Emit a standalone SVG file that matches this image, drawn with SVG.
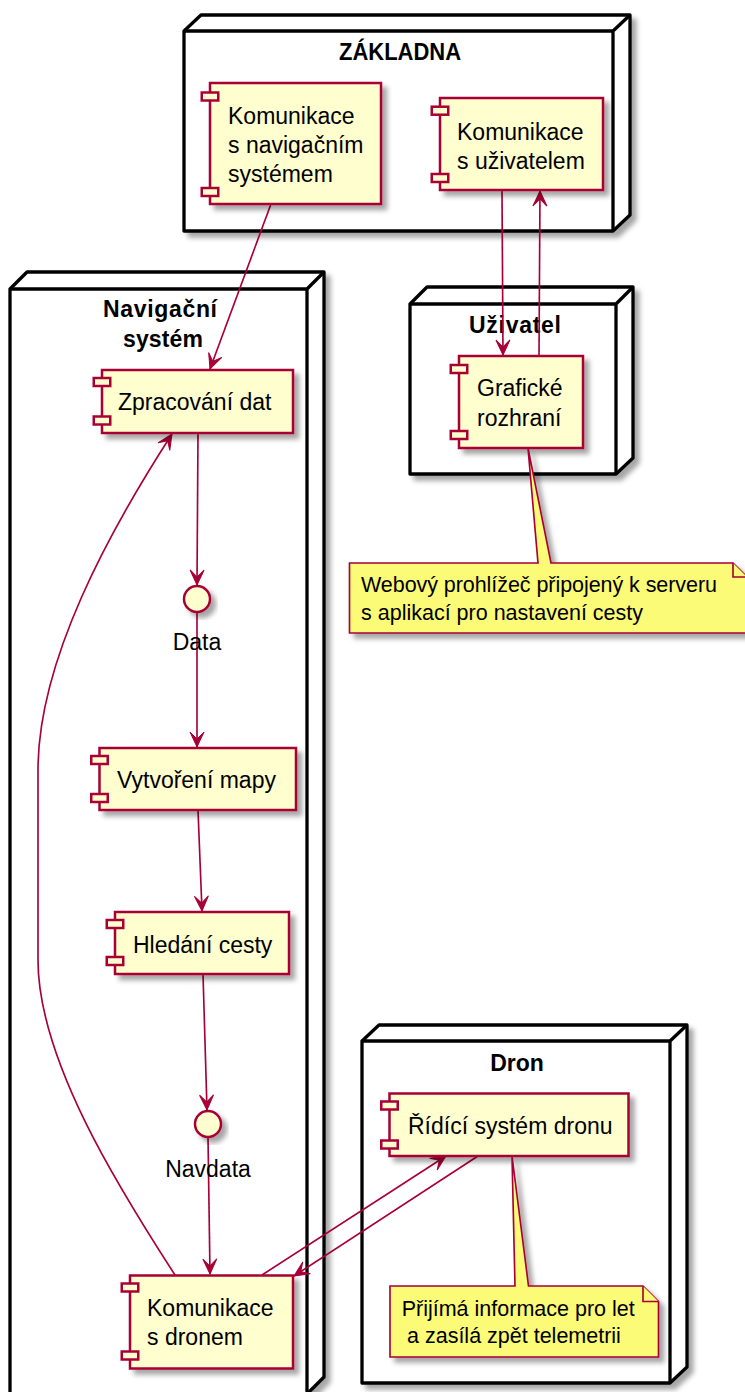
<svg xmlns="http://www.w3.org/2000/svg" width="745" height="1392" viewBox="0 0 745 1392">
<style>
.node{fill:#FFFFFF;stroke:#000000;stroke-width:3.3;stroke-linejoin:round}
.nl{fill:none;stroke:#000000;stroke-width:3.3}
.ttl{font-family:"Liberation Sans",Arial,sans-serif;font-size:23px;font-weight:bold;fill:#000;text-anchor:middle}
.comp{fill:#FEFECE;stroke:#A80036;stroke-width:2.5}
.port{fill:#FEFECE;stroke:#A80036;stroke-width:2.5}
.txt{font-family:"Liberation Sans",Arial,sans-serif;font-size:23px;fill:#000}
.lbl{font-family:"Liberation Sans",Arial,sans-serif;font-size:23px;fill:#000;text-anchor:middle}
.note{fill:#FBFB77;stroke:#A80036;stroke-width:1.65}
.ntxt{font-family:"Liberation Sans",Arial,sans-serif;font-size:21.5px;fill:#000}
.edge{fill:none;stroke:#A80036;stroke-width:1.65}
</style>
<defs>
<filter id="sh" x="-20%" y="-20%" width="150%" height="150%">
<feDropShadow dx="5" dy="5" stdDeviation="2.5" flood-color="#000" flood-opacity="0.35"/>
</filter>
<marker id="arr" viewBox="-17 -9 18 18" markerWidth="18" markerHeight="18" refX="0" refY="0" orient="auto" markerUnits="userSpaceOnUse">
<path d="M0,0 L-15,-7 L-8,0 L-15,7 Z" fill="#A80036" stroke="#A80036" stroke-width="1"/>
</marker>
</defs>
<rect width="745" height="1392" fill="#FFFFFF"/>

<g id="node-zakladna">
<path class="node" filter="url(#sh)" d="M184,31 L201,15 L630,15 L630,215 L613,231 L184,231 Z"/>
<path class="nl" d="M184,31 L613,31 L630,15 M613,31 L613,231"/>
<text class="ttl" x="400" y="60" textLength="122" lengthAdjust="spacingAndGlyphs">ZÁKLADNA</text>
</g>
<g id="node-navigacni">
<path class="node" filter="url(#sh)" d="M10,289 L27,272 L324,272 L324,1377 L307,1394 L10,1394 Z"/>
<path class="nl" d="M10,289 L307,289 L324,272 M307,289 L307,1394"/>
<text class="ttl" x="160" y="317" textLength="114" lengthAdjust="spacing">Navigační</text>
<text class="ttl" x="163" y="347" textLength="80" lengthAdjust="spacing">systém</text>
</g>
<g id="node-uzivatel">
<path class="node" filter="url(#sh)" d="M410,304 L427,287 L633,287 L633,458 L616,474 L410,474 Z"/>
<path class="nl" d="M410,304 L616,304 L633,287 M616,304 L616,474"/>
<text class="ttl" x="515" y="333" textLength="92" lengthAdjust="spacing">Uživatel</text>
</g>
<g id="node-dron">
<path class="node" filter="url(#sh)" d="M362,1041 L379,1025 L687,1025 L687,1367 L670,1383 L362,1383 Z"/>
<path class="nl" d="M362,1041 L670,1041 L687,1025 M670,1041 L670,1383"/>
<text class="ttl" x="517" y="1071">Dron</text>
</g>

<g id="connectors">
<path class="edge" marker-end="url(#arr)" d="M271,204 L210,369"/>
<path class="edge" marker-end="url(#arr)" d="M502,190 L503,355"/>
<path class="edge" marker-end="url(#arr)" d="M539,356 L540,191"/>
<path class="edge" marker-end="url(#arr)" d="M198,433 L197,585"/>
<path class="edge" marker-end="url(#arr)" d="M197,612 L197,747"/>
<path class="edge" marker-end="url(#arr)" d="M198,810 L202,911"/>
<path class="edge" marker-end="url(#arr)" d="M203,974 L207,1110"/>
<path class="edge" marker-end="url(#arr)" d="M208,1137 L210,1274"/>
<path class="edge" marker-end="url(#arr)" d="M175,1275 C120,1190 38,1060 38,960 L38,770 C38,660 110,530 172,434"/>
<path class="edge" marker-end="url(#arr)" d="M262,1275 L446,1156"/>
<path class="edge" marker-end="url(#arr)" d="M478,1156 L294,1276"/>
</g>

<g id="comp-kom-nav">
<rect class="comp" filter="url(#sh)" x="210" y="83" width="171" height="121"/>
<rect class="port" x="201.75" y="92.5" width="16.5" height="8"/>
<rect class="port" x="201.75" y="188" width="16.5" height="8"/>
<text class="txt" x="228" y="124">Komunikace</text>
<text class="txt" x="228" y="153">s navigačním</text>
<text class="txt" x="228" y="182">systémem</text>
</g>
<g id="comp-kom-uz">
<rect class="comp" filter="url(#sh)" x="440" y="98" width="163" height="92"/>
<rect class="port" x="431.75" y="106.7" width="16.5" height="8"/>
<rect class="port" x="431.75" y="174" width="16.5" height="8"/>
<text class="txt" x="457" y="139.5">Komunikace</text>
<text class="txt" x="457" y="168.5">s uživatelem</text>
</g>
<g id="comp-zpracovani">
<rect class="comp" filter="url(#sh)" x="102" y="370" width="191" height="63"/>
<rect class="port" x="93.75" y="378" width="16.5" height="8"/>
<rect class="port" x="93.75" y="416.5" width="16.5" height="8"/>
<text class="txt" x="118" y="410">Zpracování dat</text>
</g>
<g id="comp-graficke">
<rect class="comp" filter="url(#sh)" x="459" y="356" width="124" height="92"/>
<rect class="port" x="450.75" y="365" width="16.5" height="8"/>
<rect class="port" x="450.75" y="431" width="16.5" height="8"/>
<text class="txt" x="477" y="396">Grafické</text>
<text class="txt" x="477" y="425.5">rozhraní</text>
</g>
<g id="note-web">
<path class="note" filter="url(#sh)" d="M349.5,563 L538,563 L528,448 L551,563 L733,563 L747,577 L747,633 L349.5,633 Z"/>
<path class="note" d="M733,563 L733,577 L747,577"/>
<text class="ntxt" x="361" y="592" textLength="356" lengthAdjust="spacing">Webový prohlížeč připojený k serveru</text>
<text class="ntxt" x="361" y="619.5">s aplikací pro nastavení cesty</text>
</g>
<g id="iface-data">
<circle class="comp" filter="url(#sh)" cx="197" cy="599" r="13"/>
<text class="lbl" x="197" y="650">Data</text>
</g>
<g id="comp-vytvoreni">
<rect class="comp" filter="url(#sh)" x="99.5" y="748" width="196.5" height="62"/>
<rect class="port" x="91.25" y="756" width="16.5" height="8"/>
<rect class="port" x="91.25" y="794" width="16.5" height="8"/>
<text class="txt" x="117" y="788">Vytvoření mapy</text>
</g>
<g id="comp-hledani">
<rect class="comp" filter="url(#sh)" x="115" y="912" width="174" height="62"/>
<rect class="port" x="106.75" y="920" width="16.5" height="8"/>
<rect class="port" x="106.75" y="957" width="16.5" height="8"/>
<text class="txt" x="133" y="952.7">Hledání cesty</text>
</g>
<g id="iface-navdata">
<circle class="comp" filter="url(#sh)" cx="208" cy="1124" r="13"/>
<text class="lbl" x="208" y="1177">Navdata</text>
</g>
<g id="comp-kom-dron">
<rect class="comp" filter="url(#sh)" x="130" y="1275.5" width="163" height="93"/>
<rect class="port" x="121.75" y="1283.5" width="16.5" height="8"/>
<rect class="port" x="121.75" y="1351.5" width="16.5" height="8"/>
<text class="txt" x="147" y="1316">Komunikace</text>
<text class="txt" x="147" y="1345">s dronem</text>
</g>
<g id="comp-ridici">
<rect class="comp" filter="url(#sh)" x="389.5" y="1093.5" width="239" height="62.5"/>
<rect class="port" x="381.25" y="1101.5" width="16.5" height="8"/>
<rect class="port" x="381.25" y="1140.5" width="16.5" height="8"/>
<text class="txt" x="408" y="1134">Řídící systém dronu</text>
</g>
<g id="note-dron">
<path class="note" filter="url(#sh)" d="M390,1286 L515,1286 L512,1156 L528.5,1286 L643,1286 L658.5,1301.5 L658.5,1357 L390,1357 Z"/>
<path class="note" d="M643,1286 L643,1301.5 L658.5,1301.5"/>
<text class="ntxt" x="401.7" y="1316">Přijímá informace pro let</text>
<text class="ntxt" x="407" y="1343">a zasílá zpět telemetrii</text>
</g>
</svg>
